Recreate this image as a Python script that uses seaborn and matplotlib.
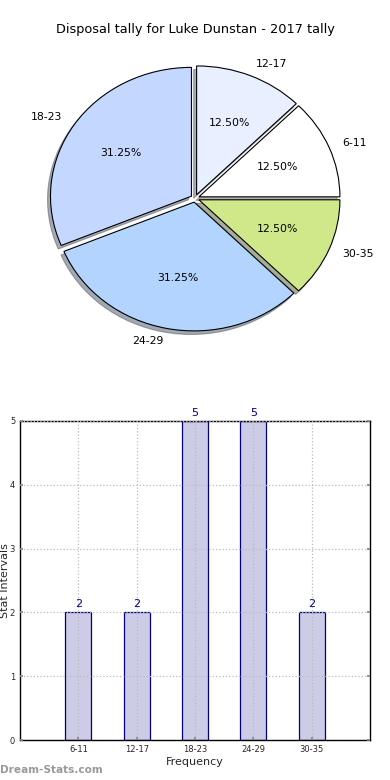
import matplotlib
matplotlib.use("Agg")
import matplotlib.pyplot as plt
import seaborn as sns
import pandas as pd

categories = ["6-11", "12-17", "18-23", "24-29", "30-35"]
values = [2, 2, 5, 5, 2]
pie_colors = ["#ffffff", "#e8f0ff", "#c4d8ff", "#b3d4ff", "#cfe98a"]
title = "Disposal tally for Luke Dunstan - 2017 tally"
y_ticks = [0, 1, 2, 3, 4, 5]

sns.set_theme(style="white")
plt.rcParams['font.family'] = ['DejaVu Sans']

fig = plt.figure(figsize=(3.9, 7.8), dpi=100)

# Pie
ax1 = fig.add_axes([25.8/390, 0.5476, 338.4/390, 0.3963])
wedges, texts, autotexts = ax1.pie(
    values, labels=categories, colors=pie_colors, autopct="%1.2f%%",
    explode=[0.03]*len(values), shadow=dict(ox=-0.015, oy=-0.02, shade=0.6),
    startangle=0,
    wedgeprops=dict(edgecolor="black", linewidth=0.8),
    textprops=dict(fontsize=7.8, color="black"))
ax1.set_aspect("auto")
ax1.set_xlim(-1.2, 1.2)
ax1.set_ylim(-1.2, 1.2)
fig.text(0.5, 1 - 30/780, title, ha="center", va="center", fontsize=9.3, color="black")

# Bars
ax2 = fig.add_axes([20/390, 40/780, 350/390, 319/780])
df = pd.DataFrame({"cat": categories, "val": values})
sns.barplot(data=df, x="cat", y="val", color="#ccccE6", edgecolor="#000080",
            linewidth=0.9, width=0.45, saturation=1, ax=ax2)
for p in ax2.patches:
    p.set_facecolor("#ccccE6")
for i, v in enumerate(values):
    ax2.text(i, v + 0.05, str(v), ha="center", va="bottom", fontsize=8, color="#000080")
ax2.set_xlim(-1, 5)
ax2.set_ylim(0, 5)
ax2.set_yticks(y_ticks)
ax2.tick_params(axis="both", labelsize=6, direction="in", length=2.5, color="#888888",
                left=True, bottom=True, right=True, top=False)
ax2.grid(True, linestyle=":", color="#bbbbbb", linewidth=0.9)
ax2.set_axisbelow(False)
for s in ax2.spines.values():
    s.set_color("black")
    s.set_linewidth(1)
ax2.set_xlabel("Frequency", fontsize=8, labelpad=2)
ax2.set_ylabel("Stat Intervals", fontsize=8)
ax2.yaxis.set_label_coords(-0.029, 0.5)

fig.text(0.0, 10/780, "Dream-Stats.com", ha="left", va="center", fontsize=7.6,
         color="#999999", fontweight="bold")

fig.savefig("out.png", dpi=100)
